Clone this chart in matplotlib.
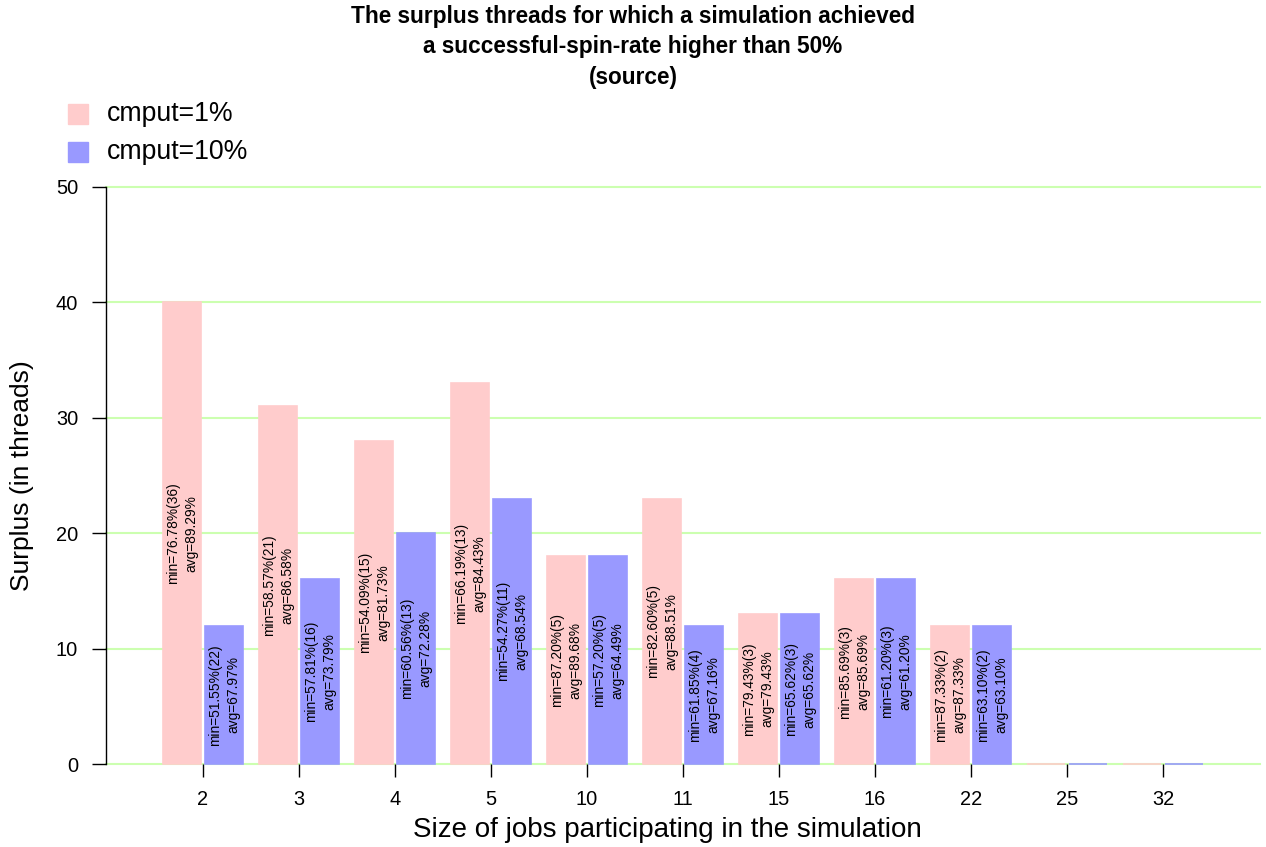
import matplotlib
matplotlib.use("Agg")
import matplotlib.pyplot as plt
from matplotlib import font_manager as fm
import numpy as np
import os

# Pick the regular-width Liberation Sans files explicitly (not the Narrow variant)
def _find_font(filename, fallback_weight):
    for path in fm.findSystemFonts():
        if os.path.basename(path) == filename:
            return fm.FontProperties(fname=path)
    return fm.FontProperties(family="DejaVu Sans", weight=fallback_weight)

REG = _find_font("LiberationSans-Regular.ttf", "normal")
BOLD = _find_font("LiberationSans-Bold.ttf", "bold")

# Job sizes on the x axis
sizes = ["2", "3", "4", "5", "10", "11", "15", "16", "22", "25", "32"]

# Surplus threads per job size
surplus_1 = [40, 31, 28, 33, 18, 23, 13, 16, 12, 0, 0]
surplus_10 = [12, 16, 20, 23, 18, 12, 13, 16, 12, 0, 0]

# Minimum successful-spin-rate (count) and average for each bar
min_1 = ["76.78%(36)", "58.57%(21)", "54.09%(15)", "66.19%(13)", "87.20%(5)",
         "82.60%(5)", "79.43%(3)", "85.69%(3)", "87.33%(2)", None, None]
avg_1 = ["89.29%", "86.58%", "81.73%", "84.43%", "89.68%",
         "88.51%", "79.43%", "85.69%", "87.33%", None, None]
min_10 = ["51.55%(22)", "57.81%(16)", "60.56%(13)", "54.27%(11)", "57.20%(5)",
          "61.85%(4)", "65.62%(3)", "61.20%(3)", "63.10%(2)", None, None]
avg_10 = ["67.97%", "73.79%", "72.28%", "68.54%", "64.49%",
          "67.16%", "65.62%", "61.20%", "63.10%", None, None]

series_names = ["cmput=1%", "cmput=10%"]
pink = "#FFCCCC"
blue = "#9999FF"
grid_green = "#CCFFB0"


def fp(base, size):
    p = base.copy()
    p.set_size(size)
    return p


W, H = 1266, 847
fig = plt.figure(figsize=(W / 100, H / 100), dpi=100)
ax = fig.add_axes([106 / W, (H - 764) / H, (1260 - 106) / W, (764 - 187) / H])

x = np.arange(len(sizes))
bw = 0.40
off = 0.22

for yv in range(0, 51, 10):
    ax.axhline(yv, color=grid_green, lw=1.5, zorder=0, clip_on=False)

ax.bar(x - off, surplus_1, width=bw, color=pink, edgecolor=pink, lw=1.2,
       zorder=2, clip_on=False)
ax.bar(x + off, surplus_10, width=bw, color=blue, edgecolor=blue, lw=1.2,
       zorder=2, clip_on=False)

for xs, hs, mins, avgs in [(x - off, surplus_1, min_1, avg_1),
                            (x + off, surplus_10, min_10, avg_10)]:
    for xi, h, mn, av in zip(xs, hs, mins, avgs):
        if mn is None:
            continue
        ax.text(xi, h / 2, f"min={mn}\navg={av}", rotation=90,
                ha="center", va="center", fontproperties=fp(REG, 9.9),
                linespacing=1.4, zorder=3)

ax.set_xlim(-1.01, len(sizes) - 1 + 1.01)
ax.set_ylim(0, 50)
for s in ["top", "right", "bottom"]:
    ax.spines[s].set_visible(False)
ax.spines["left"].set_bounds(0, 50)
ax.spines["left"].set_linewidth(1.0)
ax.spines["left"].set_zorder(4)

ax.set_yticks(range(0, 51, 10))
ax.set_xticks(x)
ax.set_xticklabels(sizes)
ax.tick_params(axis="y", length=10, width=1, pad=10)
ax.tick_params(axis="x", length=9.5, width=1, pad=9)
for lab in ax.get_xticklabels() + ax.get_yticklabels():
    lab.set_fontproperties(fp(REG, 14.4))

fig.text(667 / W, 1 - 830 / H, "Size of jobs participating in the simulation",
         ha="center", va="center", fontproperties=fp(REG, 20.0))
fig.text(22 / W, 1 - 476 / H, "Surplus (in threads)", rotation=90,
         ha="center", va="center", fontproperties=fp(REG, 19.0))

fig.text(0.5, 1 - 47 / H,
         "The surplus threads for which a simulation achieved\n"
         "a successful-spin-rate higher than 50%\n(source)",
         ha="center", va="center", fontproperties=fp(BOLD, 16.3), linespacing=1.42)

# Legend drawn in figure space at the top-left
for i, (name, col) in enumerate(zip(series_names, [pink, blue])):
    yc = 114 + 38 * i
    fig.patches.append(plt.Rectangle((68 / W, 1 - (yc + 10) / H), 20 / W, 20 / H,
                                     transform=fig.transFigure, color=col, figure=fig))
    fig.text(107 / W, 1 - yc / H, name, ha="left", va="center",
             fontproperties=fp(REG, 19.2))

fig.savefig("out.png", dpi=100)
